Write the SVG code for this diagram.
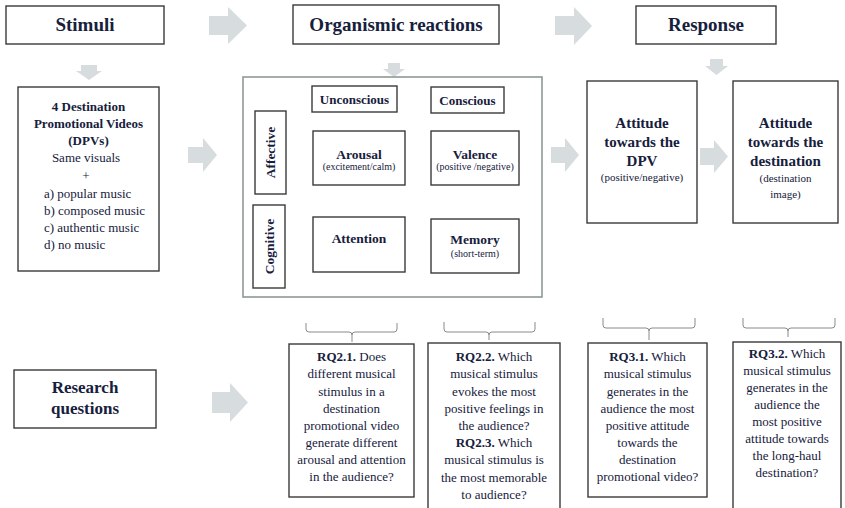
<svg xmlns="http://www.w3.org/2000/svg" width="845" height="508" viewBox="0 0 845 508">
<style>
.bx{fill:#fff;stroke:#3a3a3a;stroke-width:1.4}
.big{fill:#fff;stroke:#8e9a93;stroke-width:1.6}
.ar{fill:#d7dcdf;stroke:none}
.br{fill:none;stroke:#8a8a8a;stroke-width:1}
text{font-family:"Liberation Serif","Times New Roman",serif;fill:#16203c;text-anchor:middle}
.h{font-size:19px;font-weight:bold}
.b13{font-size:13px;font-weight:bold}
.b14{font-size:13.5px;font-weight:bold}
.b15{font-size:15px;font-weight:bold}
.r13{font-size:13px}
.s10{font-size:10px}
.s11{font-size:11px}
.rq{font-size:13px}
.l{text-anchor:start}
</style>
<rect width="845" height="508" fill="#fff"/>
<g id="connectors">
<path class="ar" d="M209,16 H228 V7 L247,25.5 L228,44 V35 H209 Z"/>
<path class="ar" d="M555,16 H574 V7 L592,26 L574,45 V35 H555 Z"/>
<path class="ar" d="M81,65 H97 V71 H102 L89,80 L76,71 H81 Z"/>
<path class="ar" d="M388,63 H400 V69 H405 L394,77 L383,69 H388 Z"/>
<path class="ar" d="M710,59 H723 V66 H728 L716.5,75 L705,66 H710 Z"/>
<path class="ar" d="M188,147 H203 V138 L217,155 L203,172 V163 H188 Z"/>
<path class="ar" d="M551,147 H565 V138 L579,155 L565,172 V163 H551 Z"/>
<path class="ar" d="M700,148 H714 V140 L728,156.5 L714,173 V165 H700 Z"/>
<path class="ar" d="M212,392 H230 V383 L248,402.5 L230,422 V413 H212 Z"/>
<path class="ar" d="M290,148 H299 V144 L307,151.5 L299,159 V155 H290 Z"/>
<path class="ar" d="M409,148.5 H418 V144.5 L426,152 L418,159.5 V155.5 H409 Z"/>
<path class="ar" d="M289,239 H298 V235 L306,242.5 L298,250 V246 H289 Z"/>
<path class="ar" d="M409,238.5 H418 V234.5 L426,242 L418,249.5 V245.5 H409 Z"/>
<path class="ar" d="M351,117 H360 V122 H364 L355.5,129 L347,122 H351 Z"/>
<path class="ar" d="M468,117 H477 V122 H481 L472.5,129 L464,122 H468 Z"/>
<path class="br" d="M306,323 V329 Q306,332 309,332 H349 Q352,332 352,335 V342 M352,335 Q352,332 355,332 H394 Q397,332 397,329 V323"/>
<path class="br" d="M444,322 V329 Q444,332 447,332 H486 Q489,332 489,335 V340 M489,335 Q489,332 492,332 H532 Q535,332 535,329 V322"/>
<path class="br" d="M603,318 V325 Q603,328 606,328 H646 Q649,328 649,331 V340 M649,331 Q649,328 652,328 H692 Q695,328 695,325 V318"/>
<path class="br" d="M743,318 V325 Q743,328 746,328 H785 Q788,328 788,331 V337 M788,331 Q788,328 791,328 H832 Q835,328 835,325 V318"/>
</g>
<g id="stimuli"><rect class="bx" x="6" y="6" width="158" height="38"/><text class="h" x="85" y="31">Stimuli</text></g>
<g id="organismic"><rect class="bx" x="293" y="5" width="206" height="39"/><text class="h" x="396" y="31">Organismic reactions</text></g>
<g id="response"><rect class="bx" x="636" y="6" width="140" height="38"/><text class="h" x="706" y="31">Response</text></g>
<g id="dpvs"><rect class="bx" x="18" y="87" width="141" height="184"/>
<text class="b13" x="88.5" y="111">4 Destination</text>
<text class="b13" x="88.5" y="128">Promotional Videos</text>
<text class="b13" x="88.5" y="145">(DPVs)</text>
<text class="r13" x="86" y="162">Same visuals</text>
<text class="r13" x="86" y="180">+</text>
<text class="r13 l" x="44" y="198">a) popular music</text>
<text class="r13 l" x="44" y="215">b) composed music</text>
<text class="r13 l" x="44" y="232">c) authentic music</text>
<text class="r13 l" x="44" y="249">d) no music</text></g>
<g id="organism-box"><rect class="big" x="243" y="77" width="299" height="220"/></g>
<g id="affective"><rect class="bx" x="255" y="111" width="31" height="83"/><text class="b14" transform="translate(275,152.5) rotate(-90)">Affective</text></g>
<g id="cognitive"><rect class="bx" x="253" y="205" width="32" height="83"/><text class="b14" transform="translate(274,246.5) rotate(-90)">Cognitive</text></g>
<g id="unconscious"><rect class="bx" x="312" y="86" width="85" height="26"/><text class="b13" x="354.5" y="104">Unconscious</text></g>
<g id="conscious"><rect class="bx" x="431" y="87" width="73" height="26"/><text class="b13" x="467.5" y="105">Conscious</text></g>
<g id="arousal"><rect class="bx" x="313" y="131" width="92" height="54"/><text class="b14" x="359" y="159">Arousal</text><text class="s10" x="359" y="170">(excitement/calm)</text></g>
<g id="valence"><rect class="bx" x="431" y="131" width="88" height="54"/><text class="b14" x="475" y="159">Valence</text><text class="s10" x="475" y="170">(positive /negative)</text></g>
<g id="attention"><rect class="bx" x="313" y="217" width="92" height="55"/><text class="b14" x="359" y="243">Attention</text></g>
<g id="memory"><rect class="bx" x="431" y="219" width="88" height="54"/><text class="b14" x="475" y="244">Memory</text><text class="s10" x="475" y="257">(short-term)</text></g>
<g id="att-dpv"><rect class="bx" x="587" y="81" width="110" height="142"/>
<text class="b15" x="642" y="128">Attitude</text>
<text class="b15" x="642" y="147">towards the</text>
<text class="b15" x="642" y="166">DPV</text>
<text class="s11" x="642" y="181">(positive/negative)</text></g>
<g id="att-dest"><rect class="bx" x="733" y="81" width="105" height="142"/>
<text class="b15" x="785.5" y="128">Attitude</text>
<text class="b15" x="785.5" y="147">towards the</text>
<text class="b15" x="785.5" y="166">destination</text>
<text class="s11" x="785.5" y="182">(destination</text>
<text class="s11" x="785.5" y="198">image)</text></g>
<g id="research"><rect class="bx" x="14" y="370" width="142" height="58"/><text class="h" x="85" y="393" style="font-size:17px">Research</text><text class="h" x="85" y="414" style="font-size:17px">questions</text></g>
<g id="rq21"><rect class="bx" x="289" y="344" width="125" height="153"/>
<text class="rq" x="351.5" y="361"><tspan font-weight="bold">RQ2.1.</tspan> Does</text>
<text class="rq" x="351.5" y="378">different musical</text>
<text class="rq" x="351.5" y="395.5">stimulus in a</text>
<text class="rq" x="351.5" y="412.5">destination</text>
<text class="rq" x="351.5" y="430">promotional video</text>
<text class="rq" x="351.5" y="447">generate different</text>
<text class="rq" x="351.5" y="464">arousal and attention</text>
<text class="rq" x="351.5" y="481">in the audience?</text></g>
<g id="rq22"><rect class="bx" x="428" y="343" width="132" height="170"/>
<text class="rq" x="494" y="361"><tspan font-weight="bold">RQ2.2.</tspan> Which</text>
<text class="rq" x="494" y="378">musical stimulus</text>
<text class="rq" x="494" y="395.5">evokes the most</text>
<text class="rq" x="494" y="412.5">positive feelings in</text>
<text class="rq" x="494" y="430">the audience?</text>
<text class="rq" x="494" y="447"><tspan font-weight="bold">RQ2.3.</tspan> Which</text>
<text class="rq" x="494" y="464">musical stimulus is</text>
<text class="rq" x="494" y="481.5">the most memorable</text>
<text class="rq" x="494" y="499">to audience?</text></g>
<g id="rq31"><rect class="bx" x="588" y="343" width="119" height="154"/>
<text class="rq" x="647.5" y="361"><tspan font-weight="bold">RQ3.1.</tspan> Which</text>
<text class="rq" x="647.5" y="378">musical stimulus</text>
<text class="rq" x="647.5" y="395.5">generates in the</text>
<text class="rq" x="647.5" y="412.5">audience the most</text>
<text class="rq" x="647.5" y="430">positive attitude</text>
<text class="rq" x="647.5" y="447">towards the</text>
<text class="rq" x="647.5" y="464">destination</text>
<text class="rq" x="647.5" y="481">promotional video?</text></g>
<g id="rq32"><rect class="bx" x="733" y="342" width="108" height="172"/>
<text class="rq" x="787" y="358"><tspan font-weight="bold">RQ3.2.</tspan> Which</text>
<text class="rq" x="787" y="375">musical stimulus</text>
<text class="rq" x="787" y="392">generates in the</text>
<text class="rq" x="787" y="409">audience the</text>
<text class="rq" x="787" y="426">most positive</text>
<text class="rq" x="787" y="443">attitude towards</text>
<text class="rq" x="787" y="460">the long-haul</text>
<text class="rq" x="787" y="477">destination?</text></g>
</svg>
